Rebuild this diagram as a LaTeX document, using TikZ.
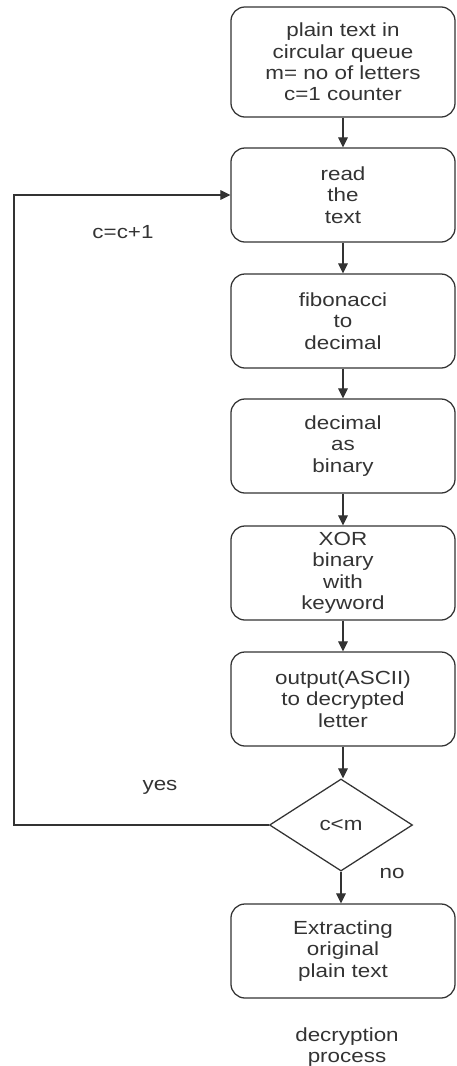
\documentclass[tikz,border=0pt]{standalone}
\usepackage{fontspec}
\setmainfont{Liberation Sans}[FakeStretch=1.18]
\usetikzlibrary{shapes.geometric,arrows.meta}

\definecolor{ink}{HTML}{333333}

\tikzset{
    stepbox/.style={draw=ink, line width=0.9pt, rounded corners=0.35cm,
        minimum width=5.6cm, minimum height=2.35cm, align=center, text=ink,
        font=\fontsize{13.5}{15.2}\selectfont},
    test/.style={draw=ink, line width=0.9pt, diamond, inner sep=0pt,
        minimum width=3.575cm, minimum height=2.3cm, text=ink,
        font=\fontsize{13.5}{15.2}\selectfont},
    lbl/.style={text=ink, align=center, font=\fontsize{13.5}{15.2}\selectfont},
    flow/.style={draw=ink, line width=0.9pt, -{Triangle[length=0.25cm,width=0.24cm]}}
}

\begin{document}
\begin{tikzpicture}[x=0.025cm,y=-0.025cm]
    \useasboundingbox (0,0) rectangle (457,1066);

    \node[stepbox, minimum height=2.75cm] (plain) at (343,62) {plain text in\\circular queue\\m= no of letters\\c=1 counter};
    \node[stepbox] (read) at (343,195) {read\\the\\text};
    \node[stepbox] (fib) at (343,321) {fibonacci\\to\\decimal};
    \node[stepbox] (bin) at (343,446) {decimal\\as\\binary};
    \node[stepbox] (xor) at (343,573) {XOR\\binary\\with\\keyword};
    \node[stepbox] (out) at (343,699) {output(ASCII)\\to decrypted\\letter};
    \node[test] (cmp) at (341,825) {c<m};
    \node[stepbox] (orig) at (343,951) {Extracting\\original\\plain text};

    \coordinate (back) at (14,0);

    \draw[flow] (plain) -- (read);
    \draw[flow] (read) -- (fib);
    \draw[flow] (fib) -- (bin);
    \draw[flow] (bin) -- (xor);
    \draw[flow] (xor) -- (out);
    \draw[flow] (out.south) -- (out.south |- cmp.north);
    \draw[flow] (cmp.south) -- (cmp.south |- orig.north);
    \draw[flow] (cmp.west) -- (cmp.west -| back) |- (read.west);

    \node[lbl] (inc) at (123,232) {c=c+1};
    \node[lbl] (yes) at (160,787) {yes};
    \node[lbl] (no) at (392,873) {no};
    \node[lbl] (cap) at (347,1047) {decryption\\process};

\end{tikzpicture}
\end{document}
